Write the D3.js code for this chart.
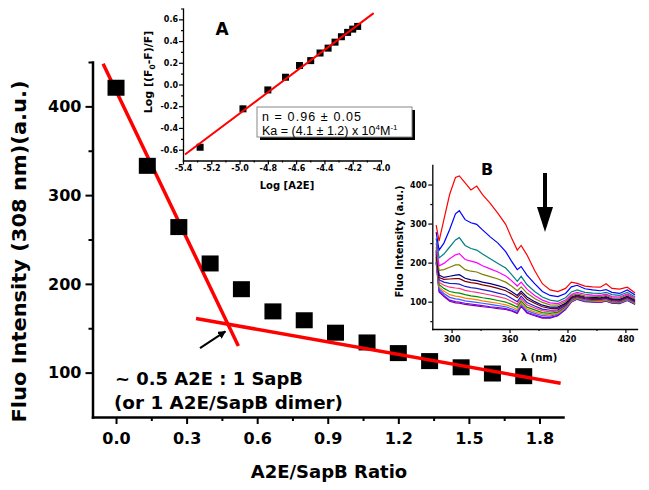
<!DOCTYPE html>
<html>
<head>
<meta charset="utf-8">
<script src="https://cdn.jsdelivr.net/npm/d3@7"></script>
<style>
body { margin: 0; background: #fff; }
svg { display: block; }
text { font-family: "DejaVu Sans", sans-serif; font-weight: bold; fill: #000; }
</style>
</head>
<body>
<svg id="chart" width="649" height="490"></svg>
<script>
// ---- main titration (fluorescence at 308 nm vs ratio) ----
var ratio = [0.0, 0.133, 0.267, 0.4, 0.533, 0.667, 0.8, 0.933, 1.067, 1.2, 1.333, 1.467, 1.6, 1.733];
var fluo308 = [421, 333, 264, 223, 194, 169, 159, 145, 134, 122, 113, 106, 99, 96];
var steepFit = [[-0.055, 448], [0.52, 130]];
var shallowFit = [[0.34, 161], [1.89, 88]];
var ratioTicks = [0.0, 0.3, 0.6, 0.9, 1.2, 1.5, 1.8];
var ratioMinor = [0.15, 0.45, 0.75, 1.05, 1.35, 1.65];
var fluoTicks = [100, 200, 300, 400];
var fluoMinor = [150, 250, 350, 450];

// ---- inset A (double log plot) ----
var logA2E = [-5.279, -4.976, -4.80, -4.675, -4.576, -4.497, -4.431, -4.374, -4.325, -4.28, -4.236, -4.2, -4.165];
var logQuench = [-0.578, -0.224, -0.05, 0.067, 0.175, 0.22, 0.29, 0.335, 0.39, 0.44, 0.48, 0.51, 0.535];
var hillFit = [[-5.386, -0.645], [-4.052, 0.657]];
var logA2ETicks = [-5.4, -5.2, -5.0, -4.8, -4.6, -4.4, -4.2, -4.0];
var logA2EMinor = [-5.3, -5.1, -4.9, -4.7, -4.5, -4.3, -4.1];
var logQTicks = [-0.6, -0.4, -0.2, 0.0, 0.2, 0.4, 0.6];
var logQMinor = [-0.5, -0.3, -0.1, 0.1, 0.3, 0.5, 0.7];

// ---- inset B (emission spectra) ----
var wavelength = [284, 287, 292, 298, 304, 308, 314, 320, 326, 332, 340, 348, 356, 362, 368, 372, 378, 386, 394, 402, 410, 418, 424, 430, 438, 446, 454, 460, 466, 474, 482, 490];
var spec01 = [296, 255, 310, 375, 418, 422, 404, 386, 396, 374, 352, 326, 298, 264, 232, 244, 220, 180, 146, 130, 126, 134, 150, 147, 140, 138, 137, 146, 134, 132, 137, 122];
var spec02 = [278, 232, 250, 285, 325, 333, 310, 302, 298, 284, 266, 250, 228, 204, 182, 190, 168, 146, 126, 116, 113, 121, 138, 142, 133, 130, 128, 131, 124, 121, 130, 117];
var spec03 = [262, 212, 222, 240, 258, 264, 244, 236, 232, 222, 210, 198, 186, 170, 152, 165, 144, 126, 112, 104, 101, 110, 125, 130, 124, 122, 121, 124, 118, 116, 124, 112];
var spec04 = [250, 192, 198, 210, 220, 223, 208, 204, 200, 192, 184, 176, 166, 154, 140, 150, 132, 116, 104, 97, 95, 104, 118, 124, 119, 117, 116, 119, 113, 112, 120, 109];
var spec05 = [240, 180, 182, 188, 194, 194, 182, 178, 176, 170, 164, 158, 150, 140, 128, 138, 122, 108, 98, 92, 91, 100, 115, 120, 115, 114, 113, 116, 110, 109, 117, 106];
var spec06 = [232, 168, 162, 165, 168, 169, 160, 156, 154, 150, 146, 141, 135, 126, 116, 127, 112, 100, 91, 86, 86, 96, 112, 117, 112, 111, 110, 113, 107, 106, 114, 104];
var spec07 = [228, 162, 157, 158, 159, 159, 152, 149, 147, 143, 139, 134, 128, 120, 110, 122, 106, 96, 87, 83, 83, 94, 110, 115, 110, 108, 108, 111, 105, 104, 112, 102];
var spec08 = [222, 156, 150, 147, 146, 145, 139, 136, 134, 131, 127, 122, 117, 109, 100, 114, 98, 89, 81, 78, 79, 91, 108, 113, 108, 106, 106, 109, 103, 102, 110, 100];
var spec09 = [218, 150, 142, 137, 135, 134, 129, 126, 124, 121, 117, 113, 108, 101, 93, 108, 92, 84, 77, 74, 76, 89, 106, 112, 106, 105, 104, 107, 102, 101, 108, 99];
var spec10 = [214, 144, 134, 126, 123, 122, 118, 115, 113, 110, 107, 103, 99, 93, 86, 102, 86, 79, 72, 70, 73, 87, 104, 110, 105, 103, 103, 106, 100, 99, 107, 97];
var spec11 = [210, 138, 127, 118, 114, 113, 109, 107, 105, 102, 99, 96, 92, 87, 80, 97, 81, 74, 68, 66, 70, 85, 102, 109, 104, 102, 101, 104, 99, 98, 106, 96];
var spec12 = [206, 133, 121, 111, 107, 106, 102, 100, 98, 96, 93, 90, 87, 82, 76, 93, 77, 70, 64, 63, 68, 83, 101, 108, 102, 101, 100, 103, 98, 97, 105, 95];
var spec13 = [202, 128, 116, 104, 100, 99, 96, 94, 92, 90, 87, 85, 82, 78, 72, 90, 73, 66, 60, 60, 65, 81, 100, 107, 101, 100, 99, 102, 97, 96, 104, 94];
var spec14 = [200, 125, 113, 101, 97, 96, 93, 91, 89, 87, 85, 82, 80, 76, 70, 88, 71, 64, 58, 58, 64, 80, 99, 106, 100, 99, 98, 101, 96, 95, 103, 93];
var specColors = ["#ff0000", "#0000ff", "#008080", "#ff00ff", "#808000", "#000080", "#800000",
                  "#2020d0", "#ff3380", "#009000", "#ff8000", "#3366ff", "#8000ff", "#800080"];
var wlTicks = [300, 360, 420, 480];
var wlMinor = [330, 390, 450];
var specTicks = [100, 200, 300, 400];
var specMinor = [50, 150, 250, 350];

var svg = d3.select("#chart");

// draws one axis with major + minor ticks, then styles it
function axisPair(axisFn, scale, pos, major, minor, fmt, o) {
    var g = svg.append("g").attr("transform", pos);
    g.call(axisFn(scale).tickValues(major).tickFormat(fmt)
        .tickSizeInner(o.major).tickSizeOuter(0).tickPadding(o.pad));
    g.select(".domain").attr("stroke-width", o.line).attr("stroke-linecap", "square");
    g.selectAll(".tick line").attr("stroke-width", o.tick);
    g.selectAll(".tick text").style("font-family", "DejaVu Sans").style("font-weight", "bold")
        .style("font-size", o.font + "px");
    var m = svg.append("g").attr("transform", pos);
    m.call(axisFn(scale).tickValues(minor).tickFormat("").tickSizeInner(o.minor).tickSizeOuter(0));
    m.select(".domain").remove();
    m.selectAll(".tick line").attr("stroke-width", o.tick);
    return g;
}
var fmt1 = function(d) { return d.toFixed(1); };

// ================= main plot =================
var x = d3.scaleLinear().domain([-0.1, 1.9]).range([92.5, 563]);
var y = d3.scaleLinear().domain([50, 450]).range([417, 62]);
var mainOpt = {major: 7, minor: 4, pad: 9, line: 2.5, tick: 2, font: 16};

axisPair(d3.axisBottom, x, "translate(0,417)", ratioTicks, ratioMinor, fmt1, mainOpt);
axisPair(d3.axisLeft, y, "translate(92.5,0)", fluoTicks, fluoMinor, d3.format("d"),
    {major: 7, minor: 4, pad: 4, line: 2.5, tick: 2, font: 16});

var line = d3.line().x(d => x(d[0])).y(d => y(d[1]));
svg.append("path").attr("d", line(steepFit)).attr("stroke", "#ff0000").attr("stroke-width", 3.5).attr("fill", "none");

svg.append("g").selectAll("rect")
    .data(ratio)
    .enter().append("rect")
    .attr("x", d => x(d) - 8.5)
    .attr("y", (d, i) => y(fluo308[i]) - 8)
    .attr("width", 17)
    .attr("height", 16)
    .attr("fill", "#000");

svg.append("path").attr("d", line(shallowFit)).attr("stroke", "#ff0000").attr("stroke-width", 3.5).attr("fill", "none");

// arrow to the intersection
svg.append("defs").append("marker")
    .attr("id", "head")
    .attr("viewBox", "0 0 10 10")
    .attr("refX", 9).attr("refY", 5)
    .attr("markerWidth", 4).attr("markerHeight", 4)
    .attr("orient", "auto")
    .append("path").attr("d", "M 0 0 L 10 5 L 0 10 Z").attr("fill", "#000");
svg.append("line")
    .attr("x1", x(0.357)).attr("y1", y(127.7))
    .attr("x2", x(0.465)).attr("y2", y(146.5))
    .attr("stroke", "#000").attr("stroke-width", 2)
    .attr("marker-end", "url(#head)");

svg.append("text").attr("x", 115).attr("y", 385).style("font-size", "18px")
    .attr("textLength", 188).attr("lengthAdjust", "spacingAndGlyphs")
    .text("~ 0.5 A2E : 1 SapB");
svg.append("text").attr("x", 114).attr("y", 409).style("font-size", "18px")
    .attr("textLength", 229).attr("lengthAdjust", "spacingAndGlyphs")
    .text("(or 1 A2E/SapB dimer)");

svg.append("text").attr("x", 329).attr("y", 478).attr("text-anchor", "middle")
    .style("font-size", "18px").text("A2E/SapB Ratio");
svg.append("text").attr("transform", "translate(26,251.5) rotate(-90)").attr("text-anchor", "middle")
    .style("font-size", "20px").attr("textLength", 342).attr("lengthAdjust", "spacingAndGlyphs")
    .text("Fluo Intensity (308 nm)(a.u.)");

// ================= inset A =================
var ax = d3.scaleLinear().domain([-5.4, -4.0]).range([183, 381]);
var ay = d3.scaleLinear().domain([-0.7, 0.7]).range([160.5, 8.5]);
var insetOpt = {major: 4, minor: 2, pad: 1, line: 1.3, tick: 1.2, font: 8};
axisPair(d3.axisBottom, ax, "translate(0,160.5)", logA2ETicks, logA2EMinor, fmt1, insetOpt);
axisPair(d3.axisLeft, ay, "translate(183,0)", logQTicks, logQMinor, fmt1, insetOpt);

svg.append("g").selectAll("rect")
    .data(logA2E)
    .enter().append("rect")
    .attr("x", d => ax(d) - 3.5)
    .attr("y", (d, i) => ay(logQuench[i]) - 3.5)
    .attr("width", 7).attr("height", 7)
    .attr("fill", "#000");

var lineA = d3.line().x(d => ax(d[0])).y(d => ay(d[1]));
svg.append("path").attr("d", lineA(hillFit)).attr("stroke", "#ff0000").attr("stroke-width", 2).attr("fill", "none");

svg.append("text").attr("x", 222).attr("y", 35).attr("text-anchor", "middle").style("font-size", "17px").text("A");
svg.append("text").attr("x", 287).attr("y", 189).attr("text-anchor", "middle").style("font-size", "10px").text("Log [A2E]");
var yl = svg.append("text").attr("transform", "translate(152,72) rotate(-90)").attr("text-anchor", "middle")
    .style("font-size", "11px");
yl.append("tspan").text("Log [(F");
yl.append("tspan").attr("dy", 3).style("font-size", "7.5px").text("0");
yl.append("tspan").attr("dy", -3).text("-F)/F]");

// result box with shadow
svg.append("rect").attr("x", 260).attr("y", 110).attr("width", 155).attr("height", 30).attr("fill", "#000");
svg.append("rect").attr("x", 257).attr("y", 107).attr("width", 155).attr("height", 30)
    .attr("fill", "#fff").attr("stroke", "#888").attr("stroke-width", 1);
svg.append("text").attr("x", 262).attr("y", 121).style("font-family", "Liberation Sans")
    .style("font-weight", "normal").style("font-size", "12.5px")
    .attr("textLength", 99).attr("lengthAdjust", "spacing")
    .text("n = 0.96 \u00b1 0.05");
var ka = svg.append("text").attr("x", 262).attr("y", 134.5).style("font-family", "Liberation Sans")
    .style("font-weight", "normal").style("font-size", "12.5px");
ka.append("tspan").text("Ka = (4.1 \u00b1 1.2) x 10");
ka.append("tspan").attr("dy", -5).style("font-size", "8px").text("4");
ka.append("tspan").attr("dy", 5).text("M");
ka.append("tspan").attr("dy", -5).style("font-size", "8px").text("-1");

// ================= inset B =================
var bx = d3.scaleLinear().domain([280, 492]).range([432.3, 637]);
var by = d3.scaleLinear().domain([30, 450]).range([329, 165]);
var insetBOpt = {major: 4, minor: 2, pad: 3, line: 1.3, tick: 1.2, font: 8};
var spectra = [spec01, spec02, spec03, spec04, spec05, spec06, spec07, spec08, spec09, spec10, spec11, spec12, spec13, spec14];
var lineB = d3.line().x((d, i) => bx(wavelength[i])).y(d => by(d));
svg.append("g").selectAll("path")
    .data(spectra.map((s, i) => ({s: s, c: specColors[i]})).reverse())
    .enter().append("path")
    .attr("d", d => lineB(d.s))
    .attr("stroke", d => d.c)
    .attr("stroke-width", 1.2)
    .attr("fill", "none");

axisPair(d3.axisBottom, bx, "translate(0,329)", wlTicks, wlMinor, d3.format("d"), insetBOpt);
axisPair(d3.axisLeft, by, "translate(432.3,0)", specTicks, specMinor, d3.format("d"),
    {major: 4, minor: 2, pad: 1.5, line: 1.3, tick: 1.2, font: 8});

svg.append("text").attr("x", 487).attr("y", 175).attr("text-anchor", "middle").style("font-size", "16px").text("B");
svg.append("text").attr("x", 539).attr("y", 361).attr("text-anchor", "middle").style("font-size", "10px").text("\u03bb (nm)");
svg.append("text").attr("transform", "translate(403,241.5) rotate(-90)").attr("text-anchor", "middle")
    .style("font-size", "10px").text("Fluo Intensity (a.u.)");

// downward arrow
svg.append("rect").attr("x", 543).attr("y", 173).attr("width", 4).attr("height", 36).attr("fill", "#000");
svg.append("path").attr("d", "M537,207 L553,207 L545,232 Z").attr("fill", "#000");
</script>
</body>
</html>
